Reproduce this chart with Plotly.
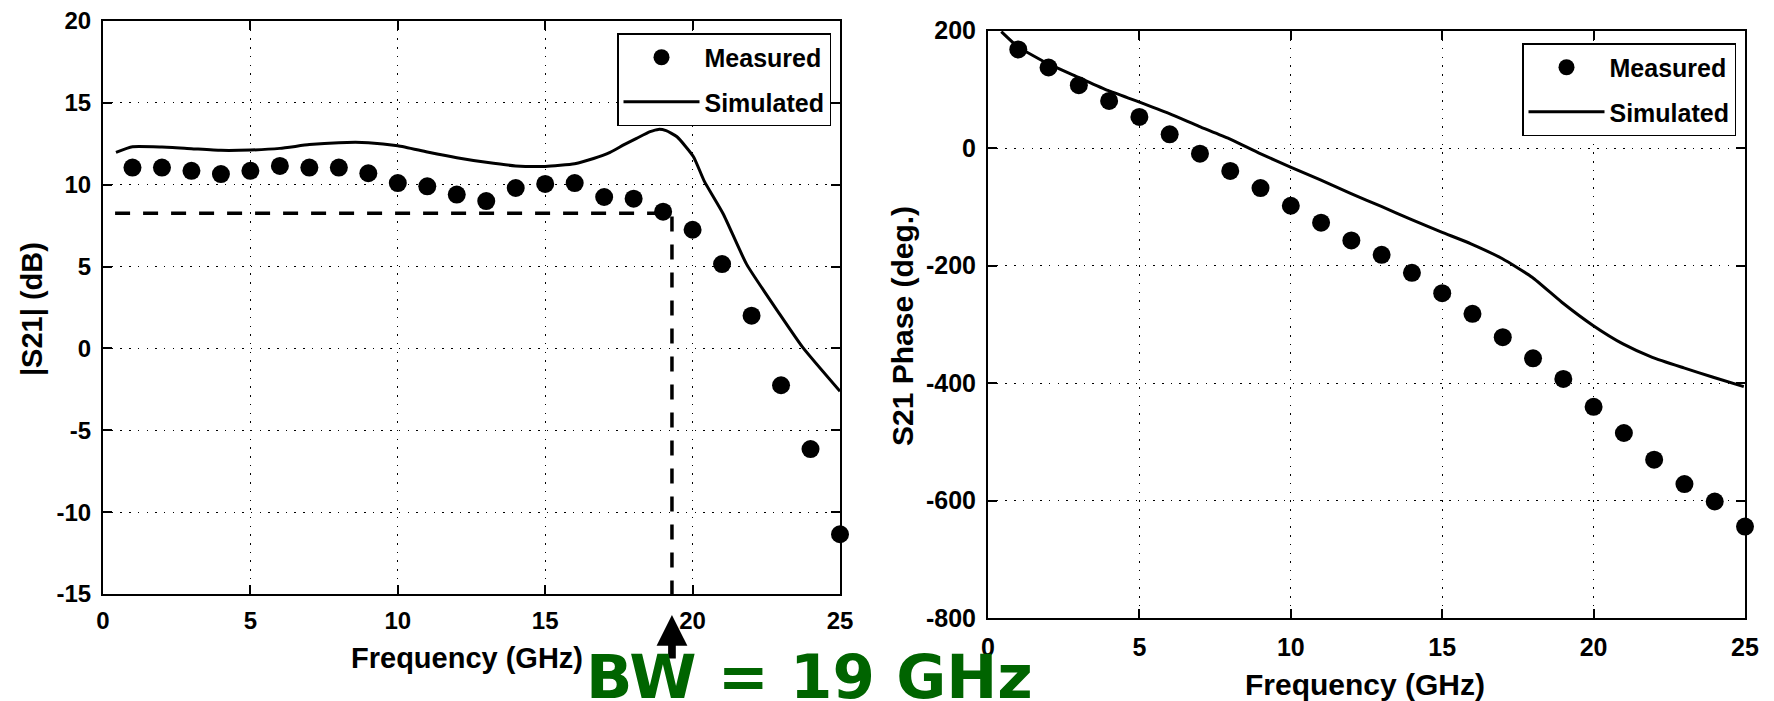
import plotly.graph_objects as go

# ---------------- data ----------------
freq_meas = list(range(1, 26))
s21_mag_meas = [11.05, 11.05, 10.85, 10.65, 10.85, 11.15, 11.05, 11.05, 10.7, 10.1,
                9.9, 9.4, 9.0, 9.8, 10.05, 10.1, 9.25, 9.15, 8.35, 7.25,
                5.15, 2.0, -2.25, -6.15, -11.35]
freq_sim_mag = [0.44, 1.0, 2.0, 3.0, 4.0, 5.0, 6.0, 7.0, 8.0, 9.0, 10.0, 11.0, 12.0, 13.0,
                14.0, 15.0, 16.0, 16.64, 17.2, 17.66, 18.1, 18.56, 18.84, 19.1, 19.47,
                20.03, 20.4, 21.04, 21.83, 22.96, 23.75, 25.0]
s21_mag_sim = [11.98, 12.32, 12.3, 12.2, 12.1, 12.12, 12.22, 12.45, 12.57, 12.57, 12.38,
               12.0, 11.65, 11.37, 11.15, 11.12, 11.28, 11.6, 11.98, 12.43, 12.83, 13.24,
               13.38, 13.3, 12.93, 11.71, 10.2, 8.21, 5.15, 2.08, 0.03, -2.62]

s21_phase_meas = [167.7, 137, 106.9, 80.1, 52.9, 23.3, -9.6, -39.1, -68.2, -98.3,
                  -127.2, -157.3, -181.8, -212.4, -247.1, -282.3, -322.1, -357.9, -393.1, -440.5,
                  -485.1, -530.6, -572, -601.7, -644.3]
freq_sim_phase = [0.44, 0.97, 1.96, 3.0, 3.96, 4.96, 5.99, 6.97, 7.96, 8.99, 9.99, 10.96, 11.99,
                  12.99, 13.99, 14.98, 15.95, 16.99, 17.97, 18.95, 19.98, 20.97, 21.94, 22.98,
                  23.95, 24.96]
s21_phase_sim = [198, 173, 144, 120, 98, 79, 58.6, 37, 16, -9.6, -32.4, -53.9, -77.7, -99.4,
                 -122, -143.2, -163, -188.5, -220, -262.5, -302, -333.4, -356.2, -374.3,
                 -390.3, -406.2]

bw_start = 0.41
bw_freq = 19.3      # GHz
bw_level = 8.25     # dB
mag_floor = -15

x_ticks = [0, 5, 10, 15, 20, 25]
mag_ticks = [-15, -10, -5, 0, 5, 10, 15, 20]
phase_ticks = [-800, -600, -400, -200, 0, 200]

# ---------------- figure ----------------
W, H = 1774, 701
FONT = "Liberation Sans, Arial, sans-serif"

fig = go.Figure()

fig.add_trace(go.Scatter(x=freq_meas, y=s21_mag_meas, mode="markers", name="Measured",
                         marker=dict(color="black", size=18, symbol="circle"),
                         cliponaxis=False, xaxis="x", yaxis="y", legend="legend",
                         legendgroup="m1"))
fig.add_trace(go.Scatter(x=freq_sim_mag, y=s21_mag_sim, mode="lines", name="Simulated",
                         line=dict(color="black", width=3, shape="spline", smoothing=0.5),
                         xaxis="x", yaxis="y", legend="legend", legendgroup="s1"))
fig.add_trace(go.Scatter(x=[bw_start, bw_freq, bw_freq], y=[bw_level, bw_level, mag_floor],
                         mode="lines", showlegend=False,
                         line=dict(color="black", width=3.5, dash="15px,13px"),
                         xaxis="x", yaxis="y"))

fig.add_trace(go.Scatter(x=freq_meas, y=s21_phase_meas, mode="markers", name="Measured",
                         marker=dict(color="black", size=18, symbol="circle"),
                         cliponaxis=False, xaxis="x2", yaxis="y2", legend="legend2",
                         legendgroup="m2"))
fig.add_trace(go.Scatter(x=freq_sim_phase, y=s21_phase_sim, mode="lines", name="Simulated",
                         line=dict(color="black", width=3, shape="spline", smoothing=0.5),
                         xaxis="x2", yaxis="y2", legend="legend2", legendgroup="s2"))


def px_x(p):
    return p / W


def px_y(p):
    return 1 - p / H


def labels(vals):
    return [str(v) for v in vals]


axis_common = dict(
    showline=True, linecolor="black", linewidth=2, mirror="ticks",
    ticks="inside", ticklen=9, tickwidth=2, tickcolor="black",
    showgrid=True, gridcolor="black", gridwidth=1.3, griddash="1.5px,7.2px",
    zeroline=False, color="black", automargin=False,
)

legend_common = dict(xanchor="right", yanchor="top",
                     bgcolor="white", bordercolor="black", borderwidth=1.5,
                     font=dict(family=FONT, size=25, weight="bold", color="black"),
                     itemwidth=76, tracegroupgap=9, traceorder="grouped")

fig.update_layout(
    width=W, height=H,
    paper_bgcolor="white", plot_bgcolor="white",
    margin=dict(l=0, r=0, t=0, b=0, pad=0, autoexpand=False),
    showlegend=True,
    xaxis=dict(domain=[px_x(103), px_x(840)], range=[0, 25], tickvals=x_ticks,
               ticktext=labels(x_ticks), ticklabelstandoff=4,
               anchor="y", tickfont=dict(family=FONT, size=24, weight="bold", color="black"),
               **axis_common),
    yaxis=dict(domain=[px_y(594), px_y(21)], range=[-15, 20], tickvals=mag_ticks,
               ticktext=labels(mag_ticks), ticklabelstandoff=5,
               anchor="x", tickfont=dict(family=FONT, size=24, weight="bold", color="black"),
               **axis_common),
    xaxis2=dict(domain=[px_x(988), px_x(1745)], range=[0, 25], tickvals=x_ticks,
                ticktext=labels(x_ticks), ticklabelstandoff=6,
                anchor="y2", tickfont=dict(family=FONT, size=25, weight="bold", color="black"),
                **axis_common),
    yaxis2=dict(domain=[px_y(618), px_y(30.5)], range=[-800, 200], tickvals=phase_ticks,
                ticktext=labels(phase_ticks), ticklabelstandoff=5,
                anchor="x2", tickfont=dict(family=FONT, size=25, weight="bold", color="black"),
                **axis_common),
    legend=dict(x=px_x(831), y=px_y(33), **legend_common),
    legend2=dict(x=px_x(1736), y=px_y(43), **legend_common),
)

title_font = dict(family=FONT, size=30, weight="bold", color="black")
annotations = [
    dict(text="Frequency (GHz)", x=px_x(467), y=px_y(658), xref="paper", yref="paper",
         xanchor="center", yanchor="middle", showarrow=False,
         font=dict(family=FONT, size=29, weight="bold", color="black")),
    dict(text="Frequency (GHz)", x=px_x(1365), y=px_y(684), xref="paper", yref="paper",
         xanchor="center", yanchor="middle", showarrow=False, font=title_font),
    dict(text="|S21| (dB)", x=px_x(32), y=px_y(309), xref="paper", yref="paper",
         xanchor="center", yanchor="middle", showarrow=False, textangle=-90,
         font=dict(family=FONT, size=29, weight="bold", color="black")),
    dict(text="S21 Phase (deg.)", x=px_x(902), y=px_y(326), xref="paper", yref="paper",
         xanchor="center", yanchor="middle", showarrow=False, textangle=-90, font=title_font),
    # arrow pointing at the bandwidth frequency
    dict(text="", x=bw_freq, xref="x", y=px_y(615), yref="paper",
         ax=0, ay=45, showarrow=True, arrowhead=2, arrowsize=0.8, arrowwidth=7.7,
         arrowcolor="black"),
    dict(text="BW = 19 GHz", x=px_x(809), y=px_y(676), xref="paper", yref="paper",
         xanchor="center", yanchor="middle", showarrow=False,
         font=dict(family="DejaVu Sans, sans-serif", size=61, weight="bold", color="#006400")),
]
fig.update_layout(annotations=annotations)

fig.write_html("out.html", config={"displayModeBar": False},
               post_script="document.body.style.margin='0px';"
                           "document.body.style.overflow='hidden';")
